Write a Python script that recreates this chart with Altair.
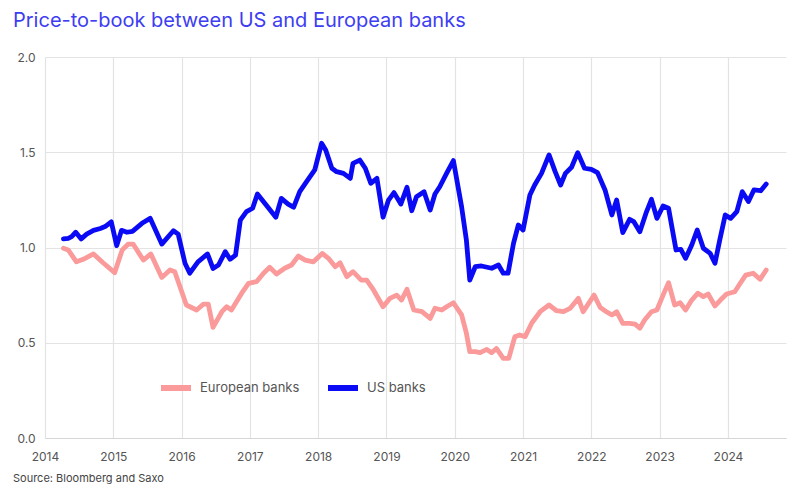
import altair as alt
import pandas as pd

# US banks price-to-book (decimal year, value)
us_years = [2014.27, 2014.34, 2014.39, 2014.45, 2014.53, 2014.61, 2014.71, 2014.81, 2014.88, 2014.97,
            2015.05, 2015.12, 2015.20, 2015.28, 2015.42, 2015.54, 2015.71, 2015.88, 2015.95,
            2016.05, 2016.12, 2016.24, 2016.38, 2016.46, 2016.54, 2016.64, 2016.71, 2016.79, 2016.86, 2016.95,
            2017.04, 2017.11, 2017.25, 2017.38, 2017.46, 2017.56, 2017.64, 2017.73, 2017.83, 2017.95,
            2018.05, 2018.11, 2018.20, 2018.27, 2018.37, 2018.47, 2018.51, 2018.61, 2018.69, 2018.77, 2018.86, 2018.95,
            2019.03, 2019.11, 2019.21, 2019.30, 2019.37, 2019.44, 2019.55, 2019.64, 2019.71, 2019.78, 2019.88, 2019.98,
            2020.10, 2020.17, 2020.22, 2020.30, 2020.39, 2020.54, 2020.64, 2020.71, 2020.78, 2020.86, 2020.93,
            2021.00, 2021.10, 2021.17, 2021.27, 2021.38, 2021.47, 2021.55, 2021.62, 2021.71, 2021.80, 2021.90,
            2022.00, 2022.09, 2022.20, 2022.30, 2022.37, 2022.46, 2022.56, 2022.62, 2022.71, 2022.80, 2022.88, 2022.96,
            2023.05, 2023.13, 2023.24, 2023.31, 2023.38, 2023.47, 2023.55, 2023.64, 2023.74, 2023.81, 2023.88, 2023.96,
            2024.04, 2024.13, 2024.21, 2024.30, 2024.38, 2024.48, 2024.56]
us_values = [1.045, 1.048, 1.057, 1.080, 1.045, 1.070, 1.090, 1.100, 1.110, 1.135,
             1.010, 1.090, 1.080, 1.085, 1.127, 1.153, 1.018, 1.088, 1.070,
             0.917, 0.865, 0.925, 0.966, 0.890, 0.908, 0.978, 0.938, 0.960, 1.144, 1.188,
             1.206, 1.281, 1.218, 1.159, 1.258, 1.228, 1.211, 1.293, 1.346, 1.407,
             1.547, 1.512, 1.416, 1.398, 1.389, 1.363, 1.442, 1.459, 1.416, 1.337, 1.363, 1.159,
             1.249, 1.288, 1.228, 1.316, 1.193, 1.267, 1.293, 1.197, 1.281, 1.319, 1.389, 1.456,
             1.214, 1.039, 0.829, 0.899, 0.903, 0.891, 0.908, 0.865, 0.865, 1.022, 1.118,
             1.092, 1.276, 1.328, 1.389, 1.486, 1.398, 1.328, 1.389, 1.421, 1.498, 1.416,
             1.410, 1.393, 1.302, 1.171, 1.249, 1.078, 1.148, 1.136, 1.083, 1.180, 1.253, 1.153,
             1.218, 1.206, 0.987, 0.990, 0.943, 1.013, 1.092, 0.996, 0.969, 0.917, 1.039, 1.171,
             1.153, 1.188, 1.293, 1.241, 1.302, 1.298, 1.333]

# European banks price-to-book (decimal year, value)
eu_years = [2014.27, 2014.34, 2014.46, 2014.56, 2014.71, 2014.85,
            2015.02, 2015.13, 2015.22, 2015.29, 2015.44, 2015.55, 2015.71, 2015.83, 2015.90,
            2016.07, 2016.22, 2016.32, 2016.39, 2016.46, 2016.59, 2016.66, 2016.73, 2016.88, 2016.98,
            2017.10, 2017.20, 2017.29, 2017.39, 2017.51, 2017.61, 2017.71, 2017.81, 2017.93,
            2018.06, 2018.15, 2018.25, 2018.32, 2018.42, 2018.51, 2018.63, 2018.71, 2018.81, 2018.95,
            2019.05, 2019.15, 2019.22, 2019.30, 2019.40, 2019.52, 2019.64, 2019.71, 2019.81, 2019.88, 2019.98,
            2020.10, 2020.17, 2020.22, 2020.30, 2020.37, 2020.47, 2020.54, 2020.61, 2020.71, 2020.79, 2020.88, 2020.95,
            2021.03, 2021.13, 2021.25, 2021.38, 2021.49, 2021.59, 2021.69, 2021.81, 2021.88, 2021.96,
            2022.04, 2022.13, 2022.22, 2022.30, 2022.37, 2022.46, 2022.56, 2022.64, 2022.71, 2022.78, 2022.88, 2022.96,
            2023.05, 2023.13, 2023.22, 2023.30, 2023.38, 2023.47, 2023.56, 2023.64, 2023.71, 2023.81, 2023.89, 2023.98,
            2024.10, 2024.18, 2024.26, 2024.37, 2024.47, 2024.56]
eu_values = [0.996, 0.987, 0.925, 0.938, 0.966, 0.920,
             0.868, 0.987, 1.018, 1.018, 0.934, 0.966, 0.843, 0.882, 0.873,
             0.698, 0.672, 0.703, 0.703, 0.581, 0.663, 0.689, 0.672, 0.760, 0.812,
             0.821, 0.865, 0.896, 0.861, 0.891, 0.908, 0.955, 0.934, 0.925,
             0.969, 0.943, 0.899, 0.920, 0.847, 0.873, 0.829, 0.829, 0.777, 0.689,
             0.733, 0.750, 0.724, 0.781, 0.672, 0.663, 0.628, 0.681, 0.672, 0.689, 0.710,
             0.646, 0.550, 0.453, 0.453, 0.448, 0.465, 0.448, 0.470, 0.418, 0.418, 0.532, 0.541,
             0.532, 0.605, 0.663, 0.698, 0.668, 0.663, 0.681, 0.733, 0.663, 0.707,
             0.750, 0.685, 0.663, 0.646, 0.663, 0.602, 0.602, 0.598, 0.576, 0.619, 0.663, 0.672,
             0.750, 0.815, 0.698, 0.710, 0.672, 0.724, 0.760, 0.742, 0.756, 0.693, 0.724, 0.756,
             0.768, 0.812, 0.855, 0.865, 0.833, 0.882]

series_names = ["European banks", "US banks"]
series_colors = ["#fa9a9a", "#0a0af5"]
year_ticks = list(range(2014, 2025))
y_ticks = [0.0, 0.5, 1.0, 1.5, 2.0]

df = pd.concat([
    pd.DataFrame({"year": eu_years, "value": eu_values, "series": series_names[0], "order": 0}),
    pd.DataFrame({"year": us_years, "value": us_values, "series": series_names[1], "order": 1}),
], ignore_index=True)

FONT = "Inter"
W, H = 741, 381

lines = alt.Chart(df).mark_line(strokeWidth=4.8, strokeJoin="round", strokeCap="round").encode(
    x=alt.X("year:Q",
            scale=alt.Scale(domain=[2014, 2024.85], nice=False, zero=False),
            axis=alt.Axis(values=year_ticks, format="d", title=None, grid=True,
                          gridColor="#e3e3e3", gridWidth=1.2, ticks=False,
                          domain=True, domainColor="#d6d6d6", domainWidth=1.2,
                          labelColor="#555555", labelFont=FONT, labelFontSize=12,
                          labelPadding=13, labelFlush=False)),
    y=alt.Y("value:Q",
            scale=alt.Scale(domain=[0, 2.0], nice=False),
            axis=alt.Axis(values=y_ticks, format=".1f", title=None, grid=True,
                          gridColor="#e3e3e3", gridWidth=1.2, ticks=False, domain=False,
                          labelColor="#555555", labelFont=FONT, labelFontSize=12,
                          labelPadding=10)),
    color=alt.Color("series:N",
                    scale=alt.Scale(domain=series_names, range=series_colors),
                    legend=alt.Legend(orient="none", direction="horizontal", title=None,
                                      legendX=113, legendY=313,
                                      symbolType="stroke", symbolSize=900, symbolStrokeWidth=6,
                                      labelFont=FONT, labelFontSize=13, labelColor="#555555",
                                      labelOffset=6, columnPadding=16)),
    detail="series:N",
    order=alt.Order("order:Q"),
)

source = alt.Chart(pd.DataFrame({"t": ["Source: Bloomberg and Saxo"]})).mark_text(
    align="left", baseline="middle", font=FONT, fontSize=11, color="#444444"
).encode(text="t:N", x=alt.value(-32), y=alt.value(H + 41))

chart = alt.layer(lines, source).properties(
    width=W, height=H,
    title=alt.TitleParams("Price-to-book between US and European banks", anchor="start",
                          frame="group", dx=-32, font=FONT, fontSize=20, fontWeight="normal",
                          color="#3d3df2", offset=20),
    autosize=alt.AutoSizeParams(type="none"),
    padding={"left": 37, "top": 49, "right": 4, "bottom": 46},
).configure_view(stroke=None)

chart.save("out.html", embed_options={"renderer": "svg", "actions": False})
